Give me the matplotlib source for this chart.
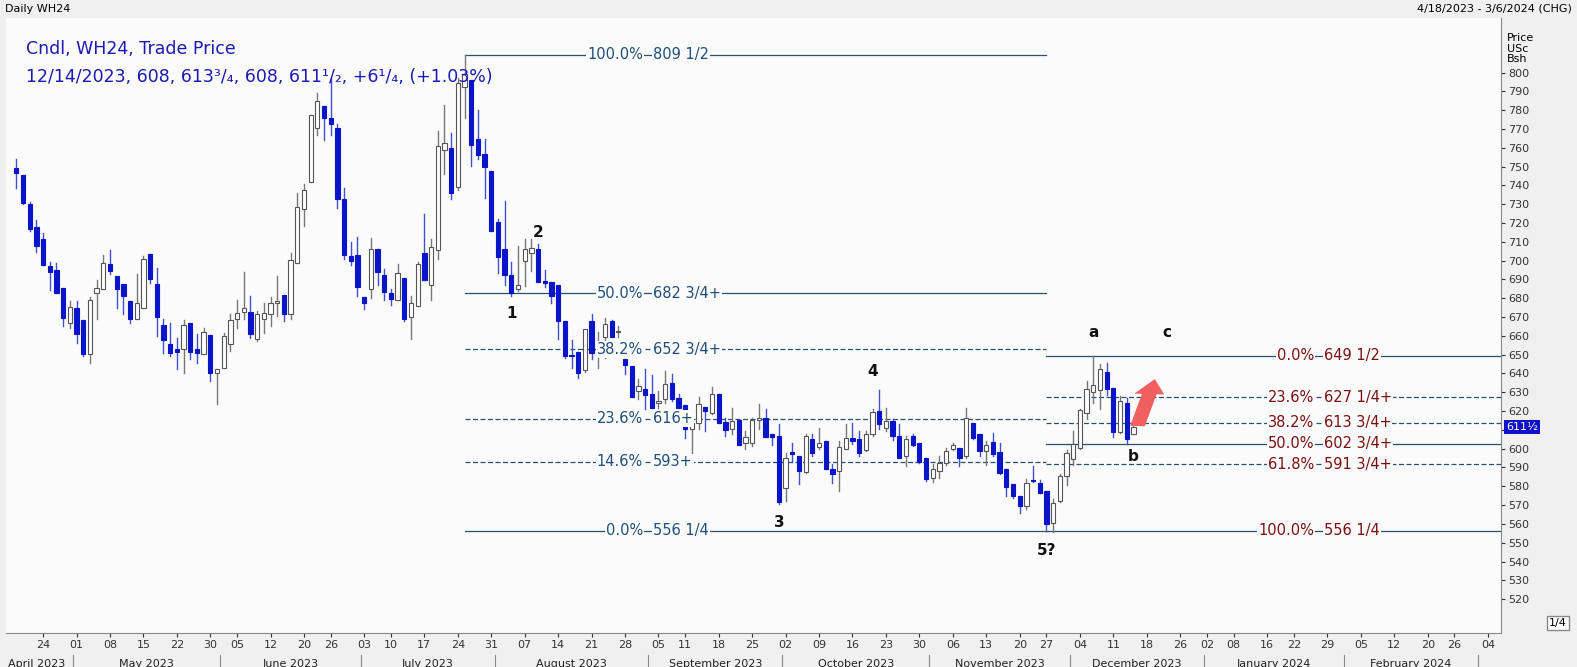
import numpy as np
import pandas as pd
import matplotlib.pyplot as plt
from matplotlib.patches import Rectangle, FancyArrow
import matplotlib.transforms as mtransforms

# daily OHLC (USc/bu)
opens = [749.3, 745.4, 729.9, 718, 711.3, 697.1, 694.8, 685.6, 667, 675, 668.2, 650.2, 682.6, 685, 698.3, 691.8,
         687.4, 678.5, 669.1, 675, 703.6, 687.7, 665.6, 655.8, 652.8, 652.8, 667, 652.8, 650.2, 660.2, 640, 643.1,
         655.5, 669.1, 672.8, 672.8, 658.5, 668.8, 671.4, 677.3, 681.7, 671.4, 698.5, 727.2, 741.9, 770.6, 782.1,
         775.9, 770.6, 732.9, 702.4, 702.9, 680.8, 685, 706, 692.2, 682.6, 679, 690.5, 670.2, 675.9, 704.2, 687,
         705.6, 758.6, 760, 739, 792.4, 795.9, 764.4, 756.8, 747.9, 720.5, 706, 692.1, 684.7, 699.7, 703.8, 706.3,
         689, 688.8, 687, 667.9, 649.5, 651.4, 641.8, 667.9, 652.2, 659.5, 667.9, 662, 647.9, 643.9, 630.7, 631.9,
         629.3, 624.5, 626.3, 634.8, 626.8, 623, 610.3, 613.5, 622.4, 619.2, 628.9, 614.4, 610.7, 615.2, 602.9,
         603.2, 615.2, 616.5, 607.6, 606.8, 579.3, 598.3, 596.1, 587.6, 605, 601.1, 604.1, 589.4, 588.2, 599.7,
         605.9, 605, 599.3, 607.6, 620, 611.2, 614.7, 606.8, 596.1, 606.8, 602.9, 595.3, 584.6, 588.2, 592.6,
         599.7, 600.6, 596.1, 613.9, 607.6, 598.8, 603.6, 598.3, 589.4, 581.1, 574.9, 569.6, 583.3, 582, 577.5,
         560.7, 572.2, 585.5, 594.4, 600.6, 619.2, 630.1, 631.2, 640.9, 632.4, 608.9, 624.1, 608]
highs = [753.8, 745.4, 731.1, 721.5, 714.5, 699.4, 698.5, 685.6, 678.5, 678.5, 668.2, 680.8, 689.5, 702.8, 705.9,
         691.8, 687.4, 678.5, 693, 702.4, 703.6, 696.2, 669.1, 667, 659, 668.4, 667, 660.8, 664.3, 660.2, 642.2,
         661.7, 671.4, 679, 693.9, 681.2, 673.2, 677.3, 680.8, 691.8, 681.7, 704.1, 736, 741, 777.2, 789.2, 782.1,
         797.2, 772.4, 738.7, 709.8, 712.7, 680.8, 712.2, 706, 695.7, 684.7, 698, 690.5, 681.2, 699.2, 724.6,
         711.3, 768.8, 783, 768, 797.2, 809.5, 795.9, 780.3, 764.7, 747.9, 722.2, 731.6, 699.2, 707.7, 711.3,
         711.3, 709, 695, 688.8, 687, 667.9, 658, 651.4, 663.4, 671.4, 662, 669.6, 668.4, 665.2, 647.9, 643.9,
         637.2, 642.2, 639, 630.7, 641.3, 639.5, 628.9, 623, 613.9, 627.6, 622.4, 633, 628.9, 616.5, 621.8, 615.2,
         609.4, 616.5, 623.6, 621.3, 607.6, 613, 597.6, 603.2, 596.1, 607.6, 607.6, 611.2, 604.1, 591.7, 604.1,
         613, 613.5, 609.4, 609.4, 620.9, 631.2, 621.8, 615.6, 613, 606.8, 607.6, 602.9, 595.3, 591.7, 596.1,
         600.6, 603.2, 600.6, 621.8, 613.9, 607.6, 604.1, 608.5, 603.2, 589.4, 581.1, 574.9, 583.7, 590.8, 583.4,
         577.5, 573.1, 586.4, 599.3, 609.4, 621, 636, 649.5, 645.2, 645.4, 632.4, 628, 627.1, 613.75]
lows = [738.7, 729.9, 715.7, 704.5, 697.6, 684.3, 682.9, 665.2, 664.3, 656.4, 649.3, 645.8, 668.8, 684.7, 692.7,
        675, 671.4, 667, 669.1, 675, 688, 659.9, 651, 649.3, 642.5, 640, 647.5, 645.8, 650.2, 636, 623.6, 643.1,
        651.9, 664.3, 669.1, 659, 657.2, 661.7, 665.2, 670.5, 667.9, 668.8, 698.5, 718.3, 741.9, 767, 764, 767,
        728.1, 700.6, 697.5, 681.2, 674.1, 680.3, 686.8, 679, 676.2, 679, 667.9, 658.1, 675.9, 689.7, 679, 701,
        745.8, 732.5, 737.8, 775.9, 750.2, 754.1, 733.4, 715.7, 693.5, 686.8, 681.2, 683.8, 686.5, 694.4, 688.6,
        685.9, 677.6, 658.1, 648.4, 643, 637.8, 640.8, 647.8, 643.1, 648.4, 659.5, 659.5, 639.5, 627.5, 626.6,
        620.9, 621.5, 621.8, 624.5, 625.4, 621.8, 605.9, 596.1, 610.3, 609.4, 618.3, 613.9, 606.8, 608, 601.8,
        599.7, 601.5, 610.3, 606.4, 602, 570.5, 572.2, 592.9, 581.1, 587.3, 596.1, 600, 589.4, 582, 577.5, 599.7,
        602.3, 596.1, 598.8, 606.8, 610.3, 609.4, 604.4, 595.3, 590.8, 601.4, 592.2, 582.9, 582.3, 584.6, 591.2,
        599.3, 590.8, 595.3, 605, 596.1, 591.2, 596.1, 586.4, 574.9, 574, 566, 567.8, 582.3, 576.3, 556.25,
        555.8, 571.7, 580.6, 591.2, 599.7, 616, 624.1, 621.3, 628.4, 606.4, 608.2, 602.3, 608]
closes = [746.7, 730.7, 716.6, 707.7, 697.6, 694.1, 682.9, 669.6, 675.5, 660.8, 650.2, 679, 685.6, 698.9, 694.4,
          684.7, 681.2, 668.8, 677.3, 701, 690, 670, 657.8, 650.7, 651.6, 665.6, 651.6, 650.7, 662.2, 640.4, 642.2,
          659.9, 668.2, 672.3, 674.8, 660.8, 671.4, 672.3, 677.6, 678.5, 671.4, 700.1, 728.6, 737.5, 777.2, 784.8,
          775.9, 772.4, 732.9, 702.8, 699.7, 685.9, 677.6, 706.3, 694.1, 683.5, 679.7, 693.2, 668.8, 677.3, 698,
          689.7, 707.4, 761.2, 762.6, 736.1, 794.5, 799, 761.7, 756.4, 749.9, 715.7, 702, 692.1, 683, 687, 706.3,
          706.5, 688.6, 688.3, 681.2, 667.9, 649.3, 649.1, 640.4, 663.4, 651, 653.4, 666.1, 659.5, 662, 644.3,
          627.5, 633.3, 628.6, 621.5, 624.5, 634.6, 626.3, 621.8, 610.3, 613.9, 623.5, 620, 629.2, 613.9, 609.8,
          614.7, 601.8, 606.4, 615.2, 616.5, 606.4, 606.4, 571.7, 595.3, 597, 588.2, 606.8, 597.6, 603.2, 589.4,
          586.4, 600.9, 605.9, 604.1, 597.9, 607.6, 619.5, 613.3, 614.7, 606.8, 595.3, 605.3, 601.8, 593, 584.1,
          589.1, 592.2, 598.8, 601.8, 595.3, 616.5, 605.9, 598.8, 601.8, 597, 587.3, 579.8, 574.9, 569.6, 582,
          583, 576.3, 559.8, 571.3, 585.5, 597.9, 602.3, 620.6, 631.5, 633.7, 642.5, 631.9, 608.9, 625.4, 605, 611.5]

holidays = ['2023-05-29', '2023-06-19', '2023-07-04', '2023-09-04', '2023-11-23',
            '2023-12-25', '2024-01-01', '2024-01-15', '2024-02-19']
days = pd.bdate_range('2023-04-18', '2024-03-06', freq='C', holidays=holidays)
n = len(closes)

# Fibonacci levels
left_pct = ['100.0%', '50.0%', '38.2%', '23.6%', '14.6%', '0.0%']
left_val = [809.5, 682.75, 652.75, 616, 593, 556.25]
left_txt = ['809 1/2', '682 3/4+', '652 3/4+', '616+', '593+', '556 1/4']
left_dash = [False, False, True, True, True, False]
right_pct = ['0.0%', '23.6%', '38.2%', '50.0%', '61.8%', '100.0%']
right_val = [649.5, 627.25, 613.75, 602.75, 591.75, 556.25]
right_txt = ['649 1/2', '627 1/4+', '613 3/4+', '602 3/4+', '591 3/4+', '556 1/4']
right_dash = [False, True, True, False, True, False]

waves = ['1', '2', '3', '4', '5?', 'a', 'b', 'c']
wave_day = ['2023-08-03', '2023-08-09', '2023-09-29', '2023-10-19', '2023-11-27', '2023-12-06', '2023-12-14',
            '2023-12-21']
wave_y = [672, 715, 561, 641, 546, 662, 596, 662]


def pos(d):
    return days.get_indexer([pd.Timestamp(d)])[0]


fig = plt.figure(figsize=(15.77, 6.67), dpi=100)
fig.patch.set_facecolor('#f0f0f0')
ax = fig.add_axes([0.004, 0.051, 0.948, 0.922])
ax.set_facecolor('#fbfbfb')
ax.set_xlim(-1.5, len(days) - 1)
ax.set_ylim(502, 829)

blue = '#0a14c8'
for i in range(n):
    o, h, l, c = opens[i], highs[i], lows[i], closes[i]
    down = c < o
    col = blue if down else '#555555'
    ax.plot([i, i], [l, h], color=('#4050d0' if down else '#777777'), lw=1, zorder=2)
    lo, hi = min(o, c), max(o, c)
    ax.add_patch(Rectangle((i - 0.32, lo), 0.64, max(hi - lo, 0.6), facecolor=blue if down else 'white',
                           edgecolor=col, lw=0.8, zorder=3))

# fib retracement lines
lx0, lx1 = pos('2023-07-25'), pos('2023-11-27')
rx0, rx1 = lx1, len(days)
navy = '#1f4f7a'
maroon = '#7a1010'
for p, v, t, d in zip(left_pct, left_val, left_txt, left_dash):
    ax.plot([lx0, lx1], [v, v], color='#2b4f6f', lw=0.9, ls=(0, (4, 2)) if d else '-', zorder=1)
    xc = pos('2023-08-31')
    ax.text(xc - 0.3, v, p, ha='right', va='center', color=navy, fontsize=10.5, zorder=4,
            bbox=dict(fc='#fbfbfb', ec='none', pad=0.5))
    ax.text(xc + 1.2, v, t, ha='left', va='center', color=navy, fontsize=10.5, zorder=4,
            bbox=dict(fc='#fbfbfb', ec='none', pad=0.5))
for p, v, t, d in zip(right_pct, right_val, right_txt, right_dash):
    ax.plot([rx0, rx1], [v, v], color='#2b4f6f', lw=0.9, ls=(0, (4, 2)) if d else '-', zorder=1)
    xc = pos('2024-01-25')
    ax.text(xc, v, p, ha='right', va='center', color=maroon, fontsize=10.5, zorder=4,
            bbox=dict(fc='#fbfbfb', ec='none', pad=0.5))
    ax.text(xc + 1.5, v, t, ha='left', va='center', color=maroon, fontsize=10.5, zorder=4,
            bbox=dict(fc='#fbfbfb', ec='none', pad=0.5))

for w, d, y in zip(waves, wave_day, wave_y):
    ax.text(pos(d), y, w, ha='center', va='center', fontsize=11, fontweight='bold', color='#111111')

ax.add_patch(FancyArrow(pos('2023-12-14') + 0.6, 612, 2.6, 25, width=2.2, head_width=4.5, head_length=8,
                        length_includes_head=True, color='#f06060', ec='none', zorder=5))

ax.text(0.013, 0.965, 'Cndl, WH24, Trade Price', transform=ax.transAxes, color='#1a1ab4', fontsize=12.5, va='top')
ax.text(0.013, 0.918, '12/14/2023, 608, 613³/₄, 608, 611¹/₂, +6¹/₄, (+1.03%)', transform=ax.transAxes,
        color='#1a1ab4', fontsize=12.5, va='top')

# right price axis (610 is hidden under the last-price box)
ax.yaxis.tick_right()
yt = np.arange(520, 801, 10)
ax.set_yticks(yt)
ax.set_yticklabels(['' if v == 610 else str(v) for v in yt])
ax.tick_params(axis='y', labelsize=8, length=3, colors='#333333', pad=2)
ax.text(1.004, 0.975, 'Price\nUSc\nBsh', transform=ax.transAxes, fontsize=8, va='top', ha='left',
        linespacing=1.05)
ax.text(1.003, closes[-1], '611½', transform=mtransforms.blended_transform_factory(ax.transAxes, ax.transData),
        fontsize=8, color='white', va='center', ha='left', bbox=dict(fc='#1010c8', ec='none', pad=1.5))

# bottom date axis: first trading day of each week
week_first = [i for i in range(len(days)) if i == 0 or days[i].week != days[i - 1].week]
week_first = [i for i in week_first if days[i] >= pd.Timestamp('2023-04-24')]
ax.set_xticks(week_first)
ax.set_xticklabels([days[i].strftime('%d') for i in week_first])
ax.tick_params(axis='x', labelsize=8, length=3, pad=2, colors='#333333')

trans = mtransforms.blended_transform_factory(ax.transData, ax.transAxes)
months = pd.period_range('2023-04', '2024-02', freq='M')
for m in months:
    idx = [i for i in range(len(days)) if days[i].to_period('M') == m]
    a, b = idx[0], idx[-1]
    ax.text((a + b) / 2 if m != months[0] else 3, -0.042, m.strftime('%B %Y'), transform=trans, ha='center',
            va='top', fontsize=8, color='#222222')
    ax.plot([b + 0.5, b + 0.5], [-0.035, -0.075], transform=trans, color='#888888', lw=0.8, clip_on=False)

for s in ['top', 'left']:
    ax.spines[s].set_visible(False)
ax.spines['right'].set_color('#888888')
ax.spines['bottom'].set_color('#888888')

fig.text(0.003, 0.987, 'Daily WH24', fontsize=8, va='center')
fig.text(0.997, 0.987, '4/18/2023 - 3/6/2024 (CHG)', fontsize=8, va='center', ha='right')
fig.text(0.988, 0.066, '1/4', fontsize=8, va='center', ha='center',
         bbox=dict(fc='white', ec='#888888', pad=1.5))

fig.savefig('out.png', dpi=100, facecolor=fig.get_facecolor())
